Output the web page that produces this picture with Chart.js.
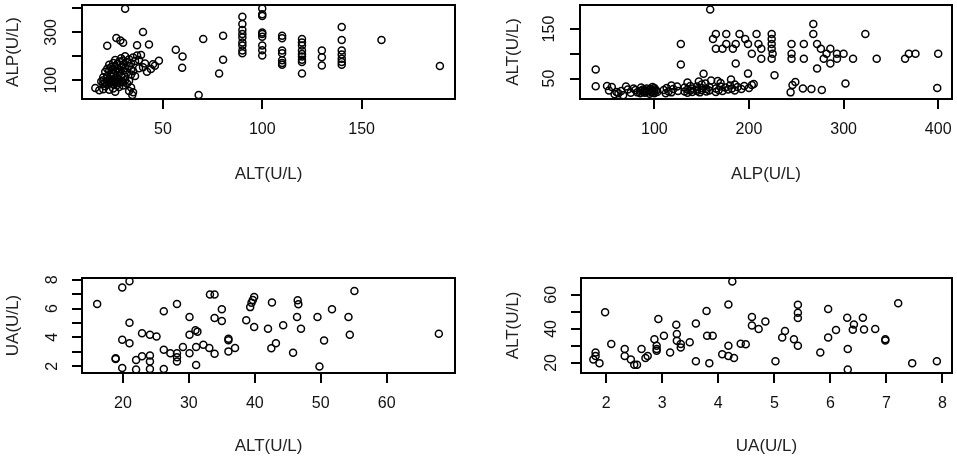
<!DOCTYPE html>
<html lang="en">
<head>
<meta charset="UTF-8">
<title>ALT / ALP / UA scatter plots</title>
<style>
  body { margin: 0; background: #fff; }
  #wrap { position: relative; width: 957px; height: 458px; overflow: hidden; }
  #wrap canvas { position: absolute; }
</style>
<script src="https://cdn.jsdelivr.net/npm/chart.js"></script>
</head>
<body>
<div id="wrap">
  <canvas id="c1" width="478" height="229" style="left:0;top:0"></canvas>
  <canvas id="c2" width="479" height="229" style="left:478px;top:0"></canvas>
  <canvas id="c3" width="478" height="229" style="left:0;top:229px"></canvas>
  <canvas id="c4" width="479" height="229" style="left:478px;top:229px"></canvas>
</div>
<script>
// set A: ALT vs ALP (top row, second panel is the same pairs swapped)
const altA = [
  // low ALP part of the cluster
  16, 18, 20, 21, 23, 25, 26, 28, 30, 33, 35, 34, 27,
  // dense 80-105
  19, 20, 20, 21, 22, 22, 23, 23, 24, 24, 25, 25, 26, 26, 27, 28, 28, 29, 30, 31, 32, 33,
  // 110-127
  20, 22, 24, 25, 27, 29, 31, 34, 36,
  // 130-160
  21, 22, 23, 24, 24, 25, 26, 26, 27, 28, 28, 29, 30, 31, 32, 33, 34, 35, 38, 40, 42, 44,
  // 160-210
  23, 25, 26, 27, 28, 29, 30, 30, 31, 32, 33, 34, 35, 36, 38, 39, 41, 45, 46, 48, 37,
  // stragglers of the cluster
  22, 26.6, 28.6, 30, 37, 43, 31, 40, 34.6,
  // higher ALT
  56.5, 59.9, 59.7, 70.3, 68, 80.3, 80.3, 78.3,
  90, 90, 90, 90, 90, 90, 90, 90, 90,
  100, 100, 100, 100, 100, 100, 100, 100, 100,
  110, 110, 110, 110, 110, 110, 110,
  120, 120, 120, 120, 120, 120, 120, 120, 120,
  130, 130, 130,
  140, 140, 140, 140, 140, 140, 140,
  160, 189.4
];
const alpA = [
  67, 58, 62, 75, 60, 65, 52, 72, 78, 55, 50, 70, 80,
  95, 85, 100, 90, 82, 97, 88, 103, 92, 100, 85, 97, 90, 102, 94, 88, 100, 96, 92, 100, 86, 98,
  112, 118, 115, 125, 110, 120, 113, 124, 118,
  135, 148, 140, 132, 155, 145, 138, 158, 150, 135, 145, 155, 140, 150, 132, 158, 145, 138, 150, 154, 135, 147,
  165, 172, 185, 168, 178, 192, 165, 182, 200, 175, 188, 170, 195, 180, 185, 205, 170, 167, 160, 181, 203,
  244, 277, 266, 257, 246, 249, 399, 302, 38,
  227, 199, 152, 272, 38, 286, 186, 128,
  365, 335, 310, 293, 279, 258, 245, 224, 213,
  400, 376, 369, 300, 293, 282, 245, 225, 203,
  286, 276, 224, 213, 183, 172, 165,
  272, 258, 245, 224, 210, 199, 186, 176, 128,
  224, 196, 162,
  323, 268, 224, 208, 190, 176, 165,
  268, 159
];

// set B: ALT vs UA (bottom row, second panel swapped)
const altB = [
  16.1, 19.9, 21.0, 21.0, 19.9, 21.0, 18.9, 18.9, 19.9, 22.0,
  22.0, 22.9, 22.9, 24.1, 25.1, 24.1, 24.1, 24.1, 26.2, 26.2,
  26.2, 27.2, 28.2, 28.2, 28.2, 28.2, 29.1, 30.1, 30.1, 30.1,
  31.0, 31.3, 31.1, 31.1, 32.2, 33.2, 33.9, 33.9, 33.1, 33.9,
  35.0, 35.0, 36.0, 36.0, 36.0, 37.0, 38.7, 39.9, 39.3, 39.5,
  39.7, 39.9, 42.6, 42.0, 42.5, 43.2, 46.5, 46.6, 46.4, 47.0,
  44.3, 45.8, 49.5, 51.7, 50.5, 49.8, 54.2, 54.4, 55.1, 67.9
];
const uaB = [
  6.31, 7.46, 7.9, 5.02, 3.84, 3.6, 2.5, 2.55, 1.88, 2.44,
  1.77, 2.7, 4.28, 4.18, 4.07, 2.74, 2.33, 1.81, 5.82, 3.14,
  1.81, 2.9, 6.31, 2.9, 2.63, 2.33, 3.33, 5.42, 4.18, 2.9,
  4.49, 4.4, 3.33, 2.09, 3.49, 6.98, 6.98, 5.35, 3.26, 2.86,
  5.96, 5.14, 3.9, 3.8, 3.03, 3.26, 5.19, 4.72, 6.1, 6.4,
  6.6, 6.8, 6.42, 4.6, 3.25, 3.6, 6.58, 6.3, 5.42, 4.6,
  4.84, 2.93, 5.42, 5.96, 3.79, 1.98, 5.42, 4.18, 7.21, 4.25
];

// axis limits and ticks per panel
const p1X = [9.3, 197],   p1Y = [21.4, 414.6];
const p2X = [21.4, 414.6], p2Y = [8.6, 198.6];
const p3X = [13.8, 70.35], p3Y = [1.53, 8.12];
const p4X = [1.55, 8.17], p4Y = [14.1, 69.9];

const p1XTicks = [50, 100, 150],            p1YTicks = [100, 200, 300, 400], p1YLabels = [100, 300];
const p2XTicks = [100, 200, 300, 400],      p2YTicks = [50, 100, 150],       p2YLabels = [50, 150];
const p3XTicks = [20, 30, 40, 50, 60],      p3YTicks = [2, 3, 4, 5, 6, 7, 8], p3YLabels = [2, 4, 6, 8];
const p4XTicks = [2, 3, 4, 5, 6, 7, 8],     p4YTicks = [20, 30, 40, 50, 60], p4YLabels = [20, 40, 60];

Chart.defaults.font.family = 'Arial, "Liberation Sans", sans-serif';
Chart.defaults.animation = false;

const boxPlugin = {
  id: 'box',
  afterDraw(chart) {
    const { ctx, chartArea: a } = chart;
    ctx.save();
    ctx.strokeStyle = '#000';
    ctx.lineWidth = 2;
    ctx.strokeRect(a.left, a.top, a.right - a.left, a.bottom - a.top);
    ctx.restore();
  }
};

// the scales ask for room for their end labels; the box is placed by hand, so drop it
function noEdgePadding(s) {
  s.paddingTop = 0;
  s.paddingBottom = 0;
  s.paddingLeft = 0;
  s.paddingRight = 0;
}

function panel(id, xs, ys, p) {
  const canvas = document.getElementById(id);
  const W = canvas.width, H = canvas.height;
  const tickFont = { size: 16 };
  const titleFont = { size: 17 };
  return new Chart(canvas, {
    type: 'scatter',
    data: {
      datasets: [{
        data: xs.map((x, i) => ({ x: x, y: ys[i] })),
        pointRadius: 3.5,
        pointBorderWidth: 1.5,
        borderColor: '#000',
        backgroundColor: 'rgba(0,0,0,0)',
        pointHoverRadius: 3.5,
        clip: false
      }]
    },
    options: {
      responsive: false,
      devicePixelRatio: 1,
      layout: { padding: { left: 0, top: p.box.t, right: W - p.box.r, bottom: 0 } },
      plugins: { legend: { display: false }, tooltip: { enabled: false } },
      events: [],
      scales: {
        x: {
          type: 'linear',
          position: 'bottom',
          min: p.xr[0], max: p.xr[1],
          afterBuildTicks: s => { s.ticks = p.xt.map(v => ({ value: v })); },
          afterFit: s => { s.height = H - p.box.b; noEdgePadding(s); },
          grid: { drawOnChartArea: false, drawTicks: true, tickLength: 10, lineWidth: 2, color: '#000' },
          border: { display: true, color: '#000', width: 2 },
          ticks: { autoSkip: false, maxRotation: 0, minRotation: 0, padding: 11, color: '#111', font: tickFont },
          title: { display: true, text: p.xTitle, color: '#222', font: titleFont, padding: { top: 0, bottom: p.xTitlePad } }
        },
        y: {
          type: 'linear',
          position: 'left',
          min: p.yr[0], max: p.yr[1],
          afterBuildTicks: s => { s.ticks = p.yt.map(v => ({ value: v })); },
          afterFit: s => { s.width = p.box.l; noEdgePadding(s); },
          grid: { drawOnChartArea: false, drawTicks: true, tickLength: 10, lineWidth: 2, color: '#000' },
          border: { display: true, color: '#000', width: 2 },
          ticks: {
            autoSkip: false, minRotation: 90, maxRotation: 90, crossAlign: 'center',
            padding: p.yTickPad, color: '#111', font: tickFont,
            callback: v => p.yl.includes(v) ? String(v) : ''
          },
          title: { display: true, text: p.yTitle, color: '#222', font: titleFont, padding: { top: p.yTitlePad, bottom: 0 } }
        }
      }
    },
    plugins: [boxPlugin]
  });
}

panel('c1', altA, alpA, {
  xr: p1X, yr: p1Y, xt: p1XTicks, yt: p1YTicks, yl: p1YLabels,
  xTitle: 'ALT(U/L)', yTitle: 'ALP(U/L)',
  box: { l: 82, t: 4, r: 455, b: 99 }, xTitlePad: 44, yTitlePad: 3, yTickPad: 7
});
panel('c2', alpA, altA, {
  xr: p2X, yr: p2Y, xt: p2XTicks, yt: p2YTicks, yl: p2YLabels,
  xTitle: 'ALP(U/L)', yTitle: 'ALT(U/L)',
  box: { l: 102, t: 4, r: 475, b: 99 }, xTitlePad: 44, yTitlePad: 25, yTickPad: 7
});
panel('c3', altB, uaB, {
  xr: p3X, yr: p3Y, xt: p3XTicks, yt: p3YTicks, yl: p3YLabels,
  xTitle: 'ALT(U/L)', yTitle: 'UA(U/L)',
  box: { l: 82, t: 49, r: 455, b: 144 }, xTitlePad: 1, yTitlePad: 3, yTickPad: 15
});
panel('c4', uaB, altB, {
  xr: p4X, yr: p4Y, xt: p4XTicks, yt: p4YTicks, yl: p4YLabels,
  xTitle: 'UA(U/L)', yTitle: 'ALT(U/L)',
  box: { l: 103, t: 49, r: 475, b: 144 }, xTitlePad: 1, yTitlePad: 25, yTickPad: 11
});
</script>
</body>
</html>
